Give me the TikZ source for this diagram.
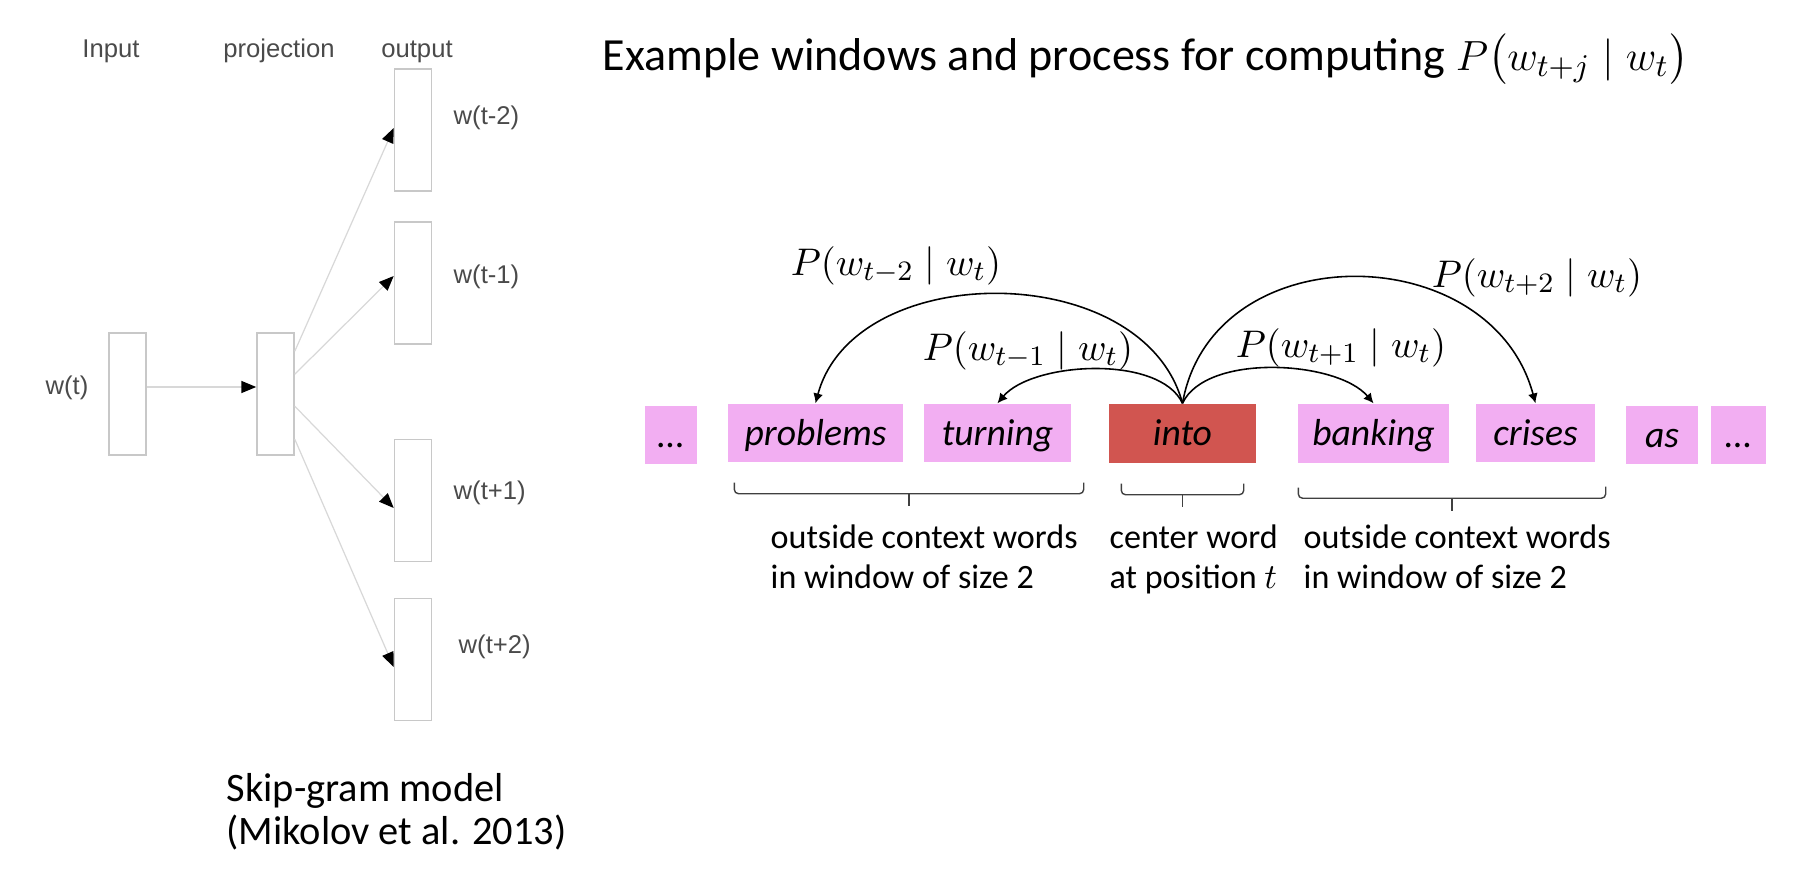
\documentclass[tikz,border=0pt]{standalone}
\usepackage{amsmath}
\usepackage{fontspec}
\setmainfont{Carlito}
\newfontfamily\arialfont{Liberation Sans}
\usetikzlibrary{arrows.meta,calc}

\definecolor{wordpink}{HTML}{F2AEF2}
\definecolor{centerred}{HTML}{D15550}
\definecolor{layergray}{HTML}{C8C8C8}
\definecolor{linkgray}{HTML}{D8D8D8}
\definecolor{labelgray}{HTML}{4A4A4A}

\tikzset{
  layer/.style={draw=layergray, line width=0.45pt, minimum width=0.37cm, minimum height=1.22cm, inner sep=0pt},
  layertext/.style={font=\arialfont\fontsize{7.3}{8}\selectfont, text=labelgray, inner sep=0pt},
  link/.style={draw=linkgray, line width=0.35pt, -{Triangle[length=4.2pt,width=3.4pt,color=black]}},
  word/.style={fill=wordpink, inner sep=0pt, minimum height=0.58cm, font=\itshape\fontsize{10.7}{12}\selectfont, text height=7.5pt, text depth=0.5pt},
  prob/.style={font=\fontsize{11}{13}\selectfont, inner sep=0pt, anchor=base},
  hop/.style={line width=0.45pt, -{Latex[length=2.8pt,width=2.8pt]}},
  window/.style={draw=black!75, line width=0.4pt, rounded corners=1.2pt},
  note/.style={font=\fontsize{9.7}{11.4}\selectfont, align=left, anchor=north west, inner sep=0pt}
}

\begin{document}
\begin{tikzpicture}

  \useasboundingbox (0,0) rectangle (17.94,8.88);

  \node[layertext, anchor=base] (inputlbl) at (1.11,8.31) {Input};
  \node[layertext, anchor=base] (projlbl) at (2.79,8.31) {projection};
  \node[layertext, anchor=base] (outlbl) at (4.17,8.31) {output};

  \node[layer] (in) at (1.275,4.94) {};
  \node[layer] (proj) at (2.755,4.94) {};
  \node[layer] (out1) at (4.13,7.58) {};
  \node[layer] (out2) at (4.13,6.05) {};
  \node[layer] (out3) at (4.13,3.875) {};
  \node[layer] (out4) at (4.13,2.285) {};

  \node[layertext] (wt) at (0.67,5.00) {w(t)};
  \node[layertext, anchor=west] (wm2) at (4.53,7.70) {w(t-2)};
  \node[layertext, anchor=west] (wm1) at (4.53,6.11) {w(t-1)};
  \node[layertext, anchor=west] (wp1) at (4.53,3.95) {w(t+1)};
  \node[layertext, anchor=west] (wp2) at (4.58,2.41) {w(t+2)};

  \draw[link] ([yshift=0.07cm]in.east) -- ([yshift=0.07cm]proj.west);
  \draw[link] ([yshift=-0.19cm]proj.north east) -- ([yshift=0.02cm]out1.west);
  \draw[link] ([yshift=-0.42cm]proj.north east) -- ([yshift=0.07cm]out2.west);
  \draw[link] ([yshift=-0.74cm]proj.north east) -- ([yshift=-0.075cm]out3.west);
  \draw[link] ([yshift=-1.07cm]proj.north east) -- ([yshift=-0.075cm]out4.west);

  \node[anchor=north west, align=left, inner sep=0pt, font=\fontsize{11.5}{12.2}\selectfont] (caption) at (2.26,1.15) {Skip-gram model\\(Mikolov et al. 2013)};

  \node[anchor=base west, inner sep=0pt, font=\fontsize{13.1}{15}\selectfont] (title) at (6.02,8.18) {Example windows and process for computing $P\bigl(w_{t+j} \mid w_t\bigr)$};

  \node[word, minimum width=0.52cm] (dotsl) at (6.71,4.53) {...};
  \node[word, minimum width=1.75cm] (problems) at (8.155,4.55) {problems};
  \node[word, minimum width=1.47cm] (turning) at (9.975,4.55) {turning};
  \node[word, minimum width=1.47cm, minimum height=0.59cm, fill=centerred] (into) at (11.825,4.545) {into};
  \node[word, minimum width=1.51cm, minimum height=0.59cm] (banking) at (13.735,4.545) {banking};
  \node[word, minimum width=1.19cm] (crises) at (15.355,4.55) {crises};
  \node[word, minimum width=0.72cm] (as) at (16.62,4.53) {as};
  \node[word, minimum width=0.55cm] (dotsr) at (17.385,4.53) {...};

  \draw[hop] (into.north) to[out=105, in=75, looseness=1.05] (problems.north);
  \draw[hop] (into.north) to[out=115, in=50, looseness=0.75] (turning.north);
  \draw[hop] (into.north) to[out=65, in=130, looseness=0.75] (banking.north);
  \draw[hop] (into.north) to[out=80, in=105, looseness=1.25] (crises.north);

  \node[prob] (pm2) at (8.96,6.13) {$P(w_{t-2} \mid w_t)$};
  \node[prob] (pm1) at (10.28,5.28) {$P(w_{t-1} \mid w_t)$};
  \node[prob] (pp1) at (13.41,5.31) {$P(w_{t+1} \mid w_t)$};
  \node[prob] (pp2) at (15.37,6.01) {$P(w_{t+2} \mid w_t)$};

  \coordinate (leftl) at ([shift={(0.07,-0.20)}]problems.south west);
  \coordinate (leftr) at ([shift={(0.12,-0.20)}]turning.south east);
  \coordinate (midl) at ([shift={(0.13,-0.20)}]into.south west);
  \coordinate (midr) at ([shift={(-0.13,-0.20)}]into.south east);
  \coordinate (rightl) at ([shift={(0.01,-0.24)}]banking.south west);
  \coordinate (rightr) at ([shift={(0.10,-0.24)}]crises.south east);

  \draw[window] (leftl) |- ($(leftl)!0.5!(leftr)+(0,-0.11)$) coordinate (leftm) -| (leftr);
  \draw[window] (leftm) -- ++(0,-0.12);
  \draw[window] (midl) |- ($(midl)!0.5!(midr)+(0,-0.11)$) coordinate (midm) -| (midr);
  \draw[window] (midm) -- ++(0,-0.12);
  \draw[window] (rightl) |- ($(rightl)!0.5!(rightr)+(0,-0.11)$) coordinate (rightm) -| (rightr);
  \draw[window] (rightm) -- ++(0,-0.13);

  \node[note] (leftnote) at (7.70,3.64) {outside context words\\in window of size 2};
  \node[note] (centernote) at (11.09,3.64) {center word\\at position $t$};
  \node[note] (rightnote) at (13.03,3.64) {outside context words\\in window of size 2};
\end{tikzpicture}
\end{document}
